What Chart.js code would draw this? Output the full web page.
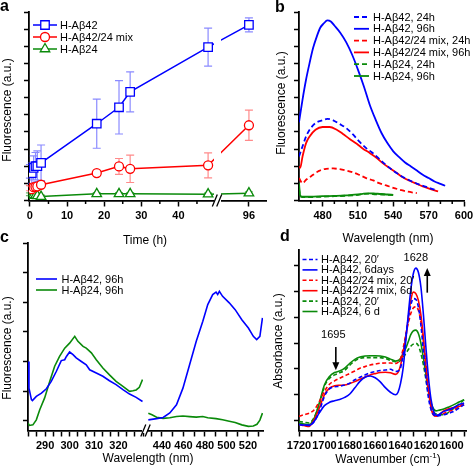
<!DOCTYPE html>
<html>
<head>
<meta charset="utf-8">
<script src="https://cdn.jsdelivr.net/npm/chart.js@4.4.1/dist/chart.umd.min.js"></script>
<style>
  html, body { margin: 0; padding: 0; background: #fff; }
  #fig { position: relative; width: 473px; height: 469px; overflow: hidden; }
  #fig canvas { position: absolute; left: 0; top: 0; }
</style>
</head>
<body>
<div id="fig">
  <canvas id="ca" width="473" height="469"></canvas>
  <canvas id="cb" width="473" height="469"></canvas>
  <canvas id="cc1" width="473" height="469"></canvas>
  <canvas id="cc2" width="473" height="469"></canvas>
  <canvas id="cd" width="473" height="469"></canvas>
</div>
<script>
// ---------- data: panel a (ThT fluorescence vs time) ----------
var timeH     = [0, 0.5, 1, 1.5, 2, 3, 18, 24, 27, 48, 96];
var aBlue     = [1.7, 1.6, 1.9, 2.0, 2.0, 2.2, 4.48, 5.44, 6.34, 8.95, 10.25];
var aBlueErr  = [0.4, 0.6, 0.7, 0.8, 0.9, 1.04, 1.43, 1.56, 1.17, 1.11, 0.41];
var aRed      = [0.72, 0.66, 0.78, 0.8, 0.82, 0.92, 1.6, 1.99, 1.85, 2.05, 4.39];
var aRedErr   = [0.15, 0.15, 0.15, 0.15, 0.15, 0.15, 0.12, 0.46, 0.8, 0.73, 0.88];
var aGreen    = [0.37, 0.29, 0.32, 0.3, 0.27, 0.23, 0.39, 0.39, 0.39, 0.37, 0.43];
var aGreenErr = [0.08, 0.08, 0.08, 0.08, 0.08, 0.08, 0.07, 0.07, 0.07, 0.07, 0.08];
var timeTicks = [0, 10, 20, 30, 40, 96];
var timeMinor = [5, 15, 25, 35, 45];

// ---------- data: panel b (emission spectra) ----------
var bBlue24Nm = [460, 463, 466, 469, 474, 480, 484, 489, 494, 500, 506, 511, 517, 522, 527, 533, 540, 547, 554, 561, 568, 575];
var bBlue24   = [2.57, 3.16, 3.74, 4.13, 4.52, 4.68, 4.76, 4.68, 4.48, 4.23, 3.84, 3.45, 3.06, 2.8, 2.5, 2.12, 1.74, 1.42, 1.17, 0.96, 0.79, 0.63];
var bBlue96Nm = [460, 463, 466, 469, 472, 475, 478, 481, 484, 487, 490, 495, 500, 505, 510, 515, 520, 525, 530, 535, 540, 545, 550, 555, 560, 565, 570, 575, 580, 584];
var bBlue96   = [4.56, 5.89, 7.06, 8.03, 8.91, 9.55, 10.08, 10.33, 10.51, 10.45, 10.21, 9.79, 9.24, 8.52, 7.64, 6.67, 5.59, 4.72, 3.94, 3.35, 2.87, 2.53, 2.22, 1.99, 1.75, 1.5, 1.31, 1.11, 0.97, 0.86];
var bRed24Nm  = [460, 463, 466, 472, 477, 483, 489, 494, 500, 506, 511, 517, 523, 528, 534, 540, 546, 551, 560];
var bRed24    = [1.31, 1.01, 1.21, 1.5, 1.73, 1.85, 1.87, 1.83, 1.75, 1.64, 1.5, 1.31, 1.17, 1.01, 0.88, 0.74, 0.62, 0.53, 0.43];
var bRed96Nm  = [460, 461, 463, 466, 469, 474, 480, 486, 492, 497, 503, 509, 514, 520, 526, 531, 537, 543, 548, 554, 560, 565, 571, 578];
var bRed96    = [1.99, 1.9, 2.57, 3.35, 3.74, 4.13, 4.29, 4.29, 4.13, 3.9, 3.59, 3.31, 3.04, 2.77, 2.48, 2.18, 1.89, 1.6, 1.36, 1.15, 0.97, 0.82, 0.68, 0.53];
var bGreen24Nm = [460, 461, 463, 470, 480, 490, 500, 510, 515, 520, 525, 530, 535, 540];
var bGreen24   = [0.7, 0.25, 0.2, 0.2, 0.22, 0.25, 0.28, 0.33, 0.38, 0.4, 0.36, 0.35, 0.33, 0.32];
var bGreen96Nm = [460, 461, 463, 470, 480, 490, 500, 505, 510, 515, 520, 525, 530, 535, 540];
var bGreen96   = [1.0, 0.3, 0.22, 0.22, 0.25, 0.27, 0.3, 0.33, 0.35, 0.4, 0.42, 0.4, 0.38, 0.35, 0.33];
var bTicks = [480, 510, 540, 570, 600];
var bMinor = [470, 490, 500, 520, 530, 550, 560, 580, 590];

// ---------- data: panel c (intrinsic + ThT fluorescence) ----------
var cBlueUvNm = [283, 283.4, 284.4, 284.8, 286.4, 288.5, 290.5, 292.5, 294.6, 296.6, 298, 298.7, 300, 301.4, 302.7, 304.8, 306.8, 308.2, 310.9, 313.6, 316.3, 319, 321.8, 324.5, 327.2, 329.8];
var cBlueUv   = [2.0, 1.1, 0.71, 0.68, 0.82, 0.93, 1.08, 1.33, 1.67, 2.03, 2.06, 2.17, 2.32, 2.23, 2.12, 2.0, 1.89, 1.72, 1.61, 1.5, 1.35, 1.22, 1.05, 0.9, 0.79, 0.65];
var cGreenUvNm = [283, 283.6, 285, 286.4, 287.8, 289.8, 291.9, 293.9, 295.9, 298, 300, 302.1, 303.4, 305.5, 306.8, 308.9, 310.9, 313.6, 316.3, 319, 321.8, 324.5, 325.9, 327.2, 328.5, 329.8];
var cGreenUv   = [-0.08, -0.16, -0.14, 0.03, 0.37, 0.77, 1.33, 1.84, 2.17, 2.45, 2.62, 2.85, 2.68, 2.51, 2.45, 2.29, 2.06, 1.78, 1.55, 1.33, 1.16, 0.99, 1.01, 1.04, 1.13, 1.39];
var cBlueVisNm = [427.3, 435, 441.1, 447.3, 453.5, 459.5, 465.7, 471.9, 478, 482.6, 487.2, 490.3, 491.8, 493.4, 496.4, 502.6, 508.1, 514.3, 520.4, 525, 528.1, 531.1, 533.5];
var cBlueVis   = [0.03, 0.07, 0.11, 0.26, 0.54, 1.1, 1.89, 2.68, 3.36, 3.92, 4.26, 4.34, 4.26, 4.37, 4.2, 3.98, 3.75, 3.41, 3.13, 2.85, 2.74, 2.85, 3.47];
var cGreenVisNm = [427.3, 430.7, 435, 441.1, 447.3, 453.5, 459.5, 465.7, 471.9, 478, 482.6, 490.3, 496.4, 502.6, 508.1, 514.3, 520.4, 525, 528.4, 531.1, 533.5];
var cGreenVis   = [0.25, 0.2, 0.12, 0.08, 0.1, 0.14, 0.16, 0.14, 0.12, 0.14, 0.1, 0.07, 0.03, -0.02, -0.06, -0.14, -0.19, -0.18, -0.12, 0.02, 0.26];
var cUvLabels  = [290, 300, 310, 320];
var cVisLabels = [440, 460, 480, 500, 520];

// ---------- data: panel d (FTIR amide I) ----------
var dWn = [1720, 1716, 1712, 1708, 1704, 1700, 1696, 1692, 1688, 1684, 1680, 1676, 1672, 1668, 1664, 1660, 1656, 1652, 1648, 1644, 1642, 1640, 1638, 1636, 1634, 1632, 1630, 1628, 1626, 1624, 1622, 1620, 1618, 1616, 1614, 1612, 1610, 1606, 1602, 1598, 1594, 1590];
var dBlue20  = [-0.15, -0.17, -0.18, -0.03, 0.36, 0.94, 1.23, 1.31, 1.33, 1.38, 1.45, 1.58, 1.68, 1.77, 1.85, 1.9, 1.94, 1.96, 1.99, 1.9, 1.92, 2.05, 2.54, 3.18, 3.95, 4.46, 4.72, 4.69, 4.4, 3.69, 2.67, 1.64, 0.87, 0.42, 0.23, 0.17, 0.19, 0.23, 0.29, 0.36, 0.49, 0.62];
var dBlue6d  = [-0.15, -0.17, -0.18, -0.02, 0.3, 0.58, 0.71, 0.77, 0.82, 0.9, 1.03, 1.27, 1.52, 1.68, 1.73, 1.66, 1.5, 1.28, 1.1, 1.0, 1.1, 1.45, 2.03, 3.05, 4.08, 5.04, 5.68, 5.9, 5.74, 5.17, 4.08, 2.79, 1.64, 0.81, 0.36, 0.21, 0.23, 0.36, 0.42, 0.51, 0.62, 0.68];
var dRed20   = [0.17, 0.23, 0.29, 0.42, 0.74, 1.13, 1.41, 1.54, 1.64, 1.73, 1.83, 1.92, 2.03, 2.09, 2.15, 2.19, 2.22, 2.23, 2.23, 2.21, 2.26, 2.41, 2.79, 3.31, 3.76, 4.14, 4.36, 4.4, 4.27, 3.82, 3.05, 2.15, 1.26, 0.62, 0.29, 0.19, 0.21, 0.28, 0.36, 0.42, 0.55, 0.68];
var dRed6d   = [-0.15, -0.19, -0.22, 0.04, 0.49, 1.0, 1.26, 1.35, 1.37, 1.38, 1.44, 1.51, 1.6, 1.69, 1.77, 1.82, 1.86, 1.87, 1.85, 1.79, 1.87, 2.15, 2.67, 3.18, 3.95, 4.65, 4.97, 4.91, 4.65, 4.08, 3.18, 2.03, 1.13, 0.49, 0.21, 0.17, 0.21, 0.38, 0.46, 0.51, 0.55, 0.62];
var dGreen20 = [-0.03, -0.06, -0.09, 0.13, 0.64, 1.32, 1.64, 1.77, 1.85, 1.95, 2.15, 2.31, 2.41, 2.44, 2.44, 2.44, 2.44, 2.4, 2.33, 2.28, 2.28, 2.33, 2.44, 2.59, 2.74, 2.88, 2.96, 2.99, 2.9, 2.6, 2.15, 1.58, 1.0, 0.55, 0.33, 0.26, 0.23, 0.23, 0.33, 0.49, 0.64, 0.81];
var dGreen6d = [-0.09, -0.13, -0.15, 0.1, 0.68, 1.38, 1.71, 1.86, 1.92, 2.03, 2.22, 2.37, 2.46, 2.5, 2.51, 2.51, 2.5, 2.46, 2.38, 2.31, 2.33, 2.41, 2.6, 2.79, 3.05, 3.33, 3.47, 3.5, 3.37, 2.99, 2.41, 1.77, 1.13, 0.68, 0.45, 0.38, 0.4, 0.45, 0.53, 0.62, 0.72, 0.81];
var dTicks = [1720, 1710, 1700, 1690, 1680, 1670, 1660, 1650, 1640, 1630, 1620, 1610, 1600, 1590];
var dNotes = [
  { text: '1628', x: 1628, y: 6.3, ax: 1619, from: 4.95, to: 5.9 },
  { text: '1695', x: 1693, y: 3.3, ax: 1691, from: 2.85, to: 1.95 }
];

// ---------- look ----------
var FONT = "'Liberation Sans', Arial, Helvetica, sans-serif";
Chart.defaults.font.family = FONT;
Chart.defaults.font.size = 11;
Chart.defaults.color = '#000';
var BLUE = '#0000ff', RED = '#ff0000', GREEN = '#0a8a0a';
var W = 473, H = 469;

function pts(xs, ys) { return xs.map(function (x, i) { return { x: x, y: ys[i] }; }); }

// chart area is placed by padding + fixed axis sizes
function pad(L, T, R, B, yW, xH) {
  return { left: L - yW, top: T, right: W - R, bottom: H - B - xH };
}

function yAxis(min, max, ticks) {
  return {
    min: min, max: max,
    afterBuildTicks: function (s) { s.ticks = ticks.map(function (v) { return { value: v }; }); },
    ticks: { display: false },
    grid: { drawOnChartArea: false, tickLength: 5, tickWidth: 1.5, tickColor: '#000' },
    border: { color: '#000', width: 1.8 },
    afterFit: function (s) { s.width = 6; s.paddingTop = 0; s.paddingBottom = 0; }
  };
}

function xAxis(min, max, ticks, label, extra) {
  var o = {
    type: 'linear', min: min, max: max,
    afterBuildTicks: function (s) { s.ticks = ticks.map(function (v) { return { value: v }; }); },
    ticks: { autoSkip: false, maxRotation: 0, minRotation: 0, padding: 3, callback: label, font: { size: 11, weight: 'bold' } },
    grid: { drawOnChartArea: false, tickLength: 6, tickWidth: 1.5, tickColor: '#000' },
    border: { color: '#000', width: 1.8 },
    afterFit: function (s) { s.height = 25; s.paddingLeft = 0; s.paddingRight = 0; }
  };
  return Object.assign(o, extra || {});
}

function baseOptions(padding, scales) {
  return {
    responsive: false, animation: false,
    layout: { padding: padding },
    plugins: { legend: { display: false }, tooltip: { enabled: false } },
    scales: scales
  };
}

// free text (titles, panel letters)
function textPlugin(items) {
  return {
    id: 'texts',
    afterDraw: function (chart) {
      var ctx = chart.ctx;
      items.forEach(function (t) {
        ctx.save();
        ctx.fillStyle = '#000';
        ctx.textBaseline = 'middle';
        ctx.translate(t.x, t.y);
        if (t.rot) ctx.rotate(t.rot);
        if (t.sup) {
          // "main" + superscript + "tail"
          ctx.font = t.font;
          var w1 = ctx.measureText(t.text).width;
          var w3 = ctx.measureText(t.tail).width;
          ctx.font = t.supFont;
          var w2 = ctx.measureText(t.sup).width;
          var x = -(w1 + w2 + w3) / 2;
          ctx.textAlign = 'left';
          ctx.font = t.font; ctx.fillText(t.text, x, 0);
          ctx.font = t.supFont; ctx.fillText(t.sup, x + w1, -4);
          ctx.font = t.font; ctx.fillText(t.tail, x + w1 + w2, 0);
        } else {
          ctx.font = t.font;
          ctx.textAlign = t.align || 'center';
          ctx.fillText(t.text, 0, 0);
        }
        ctx.restore();
      });
    }
  };
}

function drawMarker(ctx, style, x, y, r, color, bw) {
  ctx.beginPath();
  if (style === 'rect') {
    var s = r * Math.SQRT1_2;
    ctx.rect(x - s, y - s, 2 * s, 2 * s);
  } else if (style === 'triangle') {
    ctx.moveTo(x, y - r);
    ctx.lineTo(x + r * 0.866, y + r / 2);
    ctx.lineTo(x - r * 0.866, y + r / 2);
    ctx.closePath();
  } else {
    ctx.arc(x, y, r, 0, Math.PI * 2);
  }
  ctx.fillStyle = '#fff'; ctx.fill();
  ctx.strokeStyle = color; ctx.lineWidth = bw; ctx.stroke();
}

// legend drawn inside the plot, line sample + label
function legendPlugin(box) {
  return {
    id: 'legendBox',
    afterDraw: function (chart) {
      var ctx = chart.ctx;
      chart.data.datasets.forEach(function (ds, i) {
        var y = box.y + i * box.dy, x0 = box.x, x1 = box.x + box.len;
        ctx.save();
        ctx.strokeStyle = ds.borderColor;
        ctx.lineWidth = ds.borderWidth || 1.5;
        ctx.setLineDash(ds.borderDash || []);
        ctx.beginPath(); ctx.moveTo(x0, y); ctx.lineTo(x1, y); ctx.stroke();
        ctx.setLineDash([]);
        if (ds.pointRadius > 0) drawMarker(ctx, ds.pointStyle, (x0 + x1) / 2, y, ds.pointRadius, ds.borderColor, ds.pointBorderWidth);
        ctx.fillStyle = '#000';
        ctx.font = box.font;
        ctx.textAlign = 'left'; ctx.textBaseline = 'middle';
        ctx.fillText(ds.label, x1 + box.gap, y + 0.5);
        ctx.restore();
      });
    }
  };
}

function minorTicks(values, len) {
  return {
    id: 'minorTicks',
    afterDraw: function (chart) {
      var s = chart.scales.x, ctx = chart.ctx;
      ctx.save();
      ctx.strokeStyle = '#000'; ctx.lineWidth = 1.5;
      ctx.beginPath();
      values.forEach(function (v) {
        var x = s.getPixelForValue(v);
        ctx.moveTo(x, s.top); ctx.lineTo(x, s.top + len);
      });
      ctx.stroke();
      ctx.restore();
    }
  };
}

function slashes(ctx, bx, y) {
  ctx.save();
  ctx.clearRect(bx - 3.5, y - 2, 7, 4);
  ctx.strokeStyle = '#000'; ctx.lineWidth = 1.3;
  ctx.beginPath();
  [-2.2, 2.2].forEach(function (d) {
    ctx.moveTo(bx + d - 2.5, y + 6);
    ctx.lineTo(bx + d + 2.5, y - 6);
  });
  ctx.stroke();
  ctx.restore();
}

// ---------- panel a ----------
var BREAK_T = 50.4;   // time axis is cut here
var SHIFT = 37;       // 96 h is drawn 37 h to the left
function tPos(t) { return t > BREAK_T ? t - SHIFT : t; }

var errorBars = {
  id: 'errorBars',
  beforeDatasetsDraw: function (chart) {
    var ctx = chart.ctx, xs = chart.scales.x, ys = chart.scales.y;
    chart.data.datasets.forEach(function (ds) {
      ctx.save();
      ctx.strokeStyle = ds.errColor; ctx.lineWidth = 1.2;
      ctx.beginPath();
      ds.data.forEach(function (p, i) {
        var e = ds.err[i];
        var x = xs.getPixelForValue(p.x);
        var y1 = ys.getPixelForValue(p.y + e), y2 = ys.getPixelForValue(p.y - e);
        ctx.moveTo(x, y1); ctx.lineTo(x, y2);
        ctx.moveTo(x - 4, y1); ctx.lineTo(x + 4, y1);
        ctx.moveTo(x - 4, y2); ctx.lineTo(x + 4, y2);
      });
      ctx.stroke();
      ctx.restore();
    });
  }
};

var aBreak = {
  id: 'aBreak',
  afterDatasetsDraw: function (chart) {
    var ca = chart.chartArea, bx = chart.scales.x.getPixelForValue(BREAK_T);
    chart.ctx.clearRect(bx - 3.5, ca.top, 7, ca.bottom - ca.top - 1.5);
  },
  afterDraw: function (chart) {
    slashes(chart.ctx, chart.scales.x.getPixelForValue(BREAK_T), chart.chartArea.bottom);
  }
};

function aSet(label, vals, err, color, errColor, style, r) {
  return {
    label: label, data: pts(timeH.map(tPos), vals), err: err, errColor: errColor,
    borderColor: color, backgroundColor: '#fff', borderWidth: 1.5,
    pointStyle: style, pointRadius: r, pointBorderWidth: 1.3,
    pointBackgroundColor: '#fff', pointBorderColor: color, tension: 0
  };
}

new Chart(document.getElementById('ca'), {
  type: 'line',
  data: { datasets: [
    aSet('H-A\u03b242', aBlue, aBlueErr, BLUE, 'rgba(60,60,255,0.6)', 'rect', 6),
    aSet('H-A\u03b242/24 mix', aRed, aRedErr, RED, 'rgba(255,60,60,0.6)', 'circle', 4.5),
    aSet('H-A\u03b224', aGreen, aGreenErr, GREEN, 'rgba(10,138,10,0.6)', 'triangle', 5.5)
  ] },
  options: baseOptions(pad(29, 12, 266, 200.5, 6, 25), {
    x: xAxis(-0.25, 63.6, timeTicks.map(tPos), function (v) { return v === tPos(96) ? '96' : String(v); }),
    y: yAxis(0, 11, [0, 1, 2, 3, 4, 5, 6, 7, 8, 9, 10, 11])
  }),
  plugins: [errorBars, aBreak, minorTicks(timeMinor, 3.5),
    legendPlugin({ x: 33, y: 25, dy: 12, len: 24, gap: 3, font: '11px ' + FONT }),
    textPlugin([
      { text: 'a', x: 0, y: 7, font: 'bold 16px ' + FONT, align: 'left' },
      { text: 'Fluorescence (a.u.)', x: 8, y: 110, rot: -Math.PI / 2, font: '12px ' + FONT },
      { text: 'Time (h)', x: 145, y: 241, font: '12px ' + FONT }
    ])]
});

// ---------- panel b ----------
function specSet(label, xs, ys, color, dashed, width) {
  return {
    label: label, data: pts(xs, ys), borderColor: color, backgroundColor: color,
    borderWidth: width, borderDash: dashed ? [5, 3] : [], pointRadius: 0,
    cubicInterpolationMode: 'monotone'
  };
}

new Chart(document.getElementById('cb'), {
  type: 'line',
  data: { datasets: [
    specSet('H-A\u03b242, 24h', bBlue24Nm, bBlue24, BLUE, true, 1.8),
    specSet('H-A\u03b242, 96h', bBlue96Nm, bBlue96, BLUE, false, 1.8),
    specSet('H-A\u03b242/24 mix, 24h', bRed24Nm, bRed24, RED, true, 1.8),
    specSet('H-A\u03b242/24 mix, 96h', bRed96Nm, bRed96, RED, false, 1.8),
    specSet('H-A\u03b224, 24h', bGreen24Nm, bGreen24, GREEN, true, 1.8),
    specSet('H-A\u03b224, 96h', bGreen96Nm, bGreen96, GREEN, false, 1.8)
  ] },
  options: baseOptions(pad(299, 12, 464, 200.5, 6, 25), {
    x: xAxis(460, 600, bTicks, function (v) { return String(v); }),
    y: yAxis(0, 11, [0, 1, 2, 3, 4, 5, 6, 7, 8, 9, 10, 11])
  }),
  plugins: [minorTicks(bMinor, 3.5),
    legendPlugin({ x: 354, y: 17, dy: 11.8, len: 15, gap: 4, font: '11px ' + FONT }),
    textPlugin([
      { text: 'b', x: 275, y: 8, font: 'bold 16px ' + FONT, align: 'left' },
      { text: 'Fluorescence (a.u.)', x: 282, y: 103, rot: -Math.PI / 2, font: '12px ' + FONT },
      { text: 'Wavelength (nm)', x: 388, y: 239, font: '12px ' + FONT }
    ])]
});

// ---------- panel c (two pieces of one broken axis) ----------
var cUvTicks = [];
for (var k = -2; k <= 12; k++) cUvTicks.push(290 + k * 10 / 3);
var cVisTicks = [430, 440, 450, 460, 470, 480, 490, 500, 510, 520, 530];

function cSet(label, xs, ys, color) {
  return { label: label, data: pts(xs, ys), borderColor: color, borderWidth: 1.6, pointRadius: 0, tension: 0 };
}

var cBreak = {
  id: 'cBreak',
  afterDraw: function (chart) { slashes(chart.ctx, 145.5, chart.chartArea.bottom); }
};

new Chart(document.getElementById('cc1'), {
  type: 'line',
  data: { datasets: [
    cSet('H-A\u03b242, 96h', cBlueUvNm, cBlueUv, BLUE),
    cSet('H-A\u03b224, 96h', cGreenUvNm, cGreenUv, GREEN)
  ] },
  options: baseOptions(pad(28, 243, 143, 430.5, 6, 25), {
    x: xAxis(283, 330, cUvTicks, function (v) {
      var r = Math.round(v);
      return (Math.abs(v - r) < 0.01 && cUvLabels.indexOf(r) >= 0) ? String(r) : '';
    }),
    y: yAxis(-0.33, 6, [0, 1, 2, 3, 4, 5, 6])
  }),
  plugins: [cBreak,
    legendPlugin({ x: 36, y: 279, dy: 11, len: 21, gap: 4.5, font: '11px ' + FONT }),
    textPlugin([
      { text: 'c', x: 0, y: 238, font: 'bold 16px ' + FONT, align: 'left' },
      { text: 'Fluorescence (a.u.)', x: 8, y: 348, rot: -Math.PI / 2, font: '12px ' + FONT },
      { text: 'Wavelength (nm)', x: 148, y: 459, font: '12px ' + FONT }
    ])]
});

new Chart(document.getElementById('cc2'), {
  type: 'line',
  data: { datasets: [
    cSet('H-A\u03b242, 96h', cBlueVisNm, cBlueVis, BLUE),
    cSet('H-A\u03b224, 96h', cGreenVisNm, cGreenVis, GREEN)
  ] },
  options: baseOptions(pad(148, 243, 263, 430.5, 0, 25), {
    x: xAxis(427, 534, cVisTicks, function (v) { return cVisLabels.indexOf(v) >= 0 ? String(v) : ''; }),
    y: { display: false, min: -0.33, max: 6 }
  })
});

// ---------- panel d ----------
var dArrows = {
  id: 'dArrows',
  afterDraw: function (chart) {
    var ctx = chart.ctx, xs = chart.scales.x, ys = chart.scales.y;
    dNotes.forEach(function (n) {
      ctx.save();
      ctx.fillStyle = '#000'; ctx.strokeStyle = '#000';
      ctx.font = '11px ' + FONT; ctx.textAlign = 'center'; ctx.textBaseline = 'middle';
      ctx.fillText(n.text, xs.getPixelForValue(n.x), ys.getPixelForValue(n.y));
      var x = xs.getPixelForValue(n.ax), y0 = ys.getPixelForValue(n.from), y1 = ys.getPixelForValue(n.to);
      var dir = y1 < y0 ? -1 : 1;
      ctx.lineWidth = 1.6;
      ctx.beginPath(); ctx.moveTo(x, y0); ctx.lineTo(x, y1 - dir * 6); ctx.stroke();
      ctx.beginPath(); ctx.moveTo(x, y1); ctx.lineTo(x - 3.5, y1 - dir * 8); ctx.lineTo(x + 3.5, y1 - dir * 8); ctx.closePath(); ctx.fill();
      ctx.restore();
    });
  }
};

function dSet(label, ys, color, dashed) {
  return {
    label: label, data: pts(dWn, ys), borderColor: color, borderWidth: 1.6,
    borderDash: dashed ? [4, 2.5] : [], pointRadius: 0, cubicInterpolationMode: 'monotone'
  };
}

new Chart(document.getElementById('cd'), {
  type: 'line',
  data: { datasets: [
    dSet('H-A\u03b242, 20\u2032', dBlue20, BLUE, true),
    dSet('H-A\u03b242, 6days', dBlue6d, BLUE, false),
    dSet('H-A\u03b242/24 mix, 20\u2032', dRed20, RED, true),
    dSet('H-A\u03b242/24 mix, 6d', dRed6d, RED, false),
    dSet('H-A\u03b224, 20\u2032', dGreen20, GREEN, true),
    dSet('H-A\u03b224, 6 d', dGreen6d, GREEN, false)
  ] },
  options: baseOptions(pad(299, 250, 466, 430.5, 6, 25), {
    x: xAxis(1588.5, 1720, dTicks, function (v) { return v % 20 === 0 ? String(v) : ''; }, { reverse: true }),
    y: yAxis(-0.38, 6.6, [0, 1, 2, 3, 4, 5, 6])
  }),
  plugins: [dArrows,
    legendPlugin({ x: 302.5, y: 259.5, dy: 10.4, len: 15, gap: 3.5, font: '11px ' + FONT }),
    textPlugin([
      { text: 'd', x: 280, y: 237, font: 'bold 16px ' + FONT, align: 'left' },
      { text: 'Absorbance (a.u.)', x: 279, y: 341, rot: -Math.PI / 2, font: '12px ' + FONT },
      { text: 'Wavenumber (cm', sup: '-1', tail: ')', x: 388, y: 460, font: '12px ' + FONT, supFont: '8px ' + FONT }
    ])]
});
</script>
</body>
</html>
